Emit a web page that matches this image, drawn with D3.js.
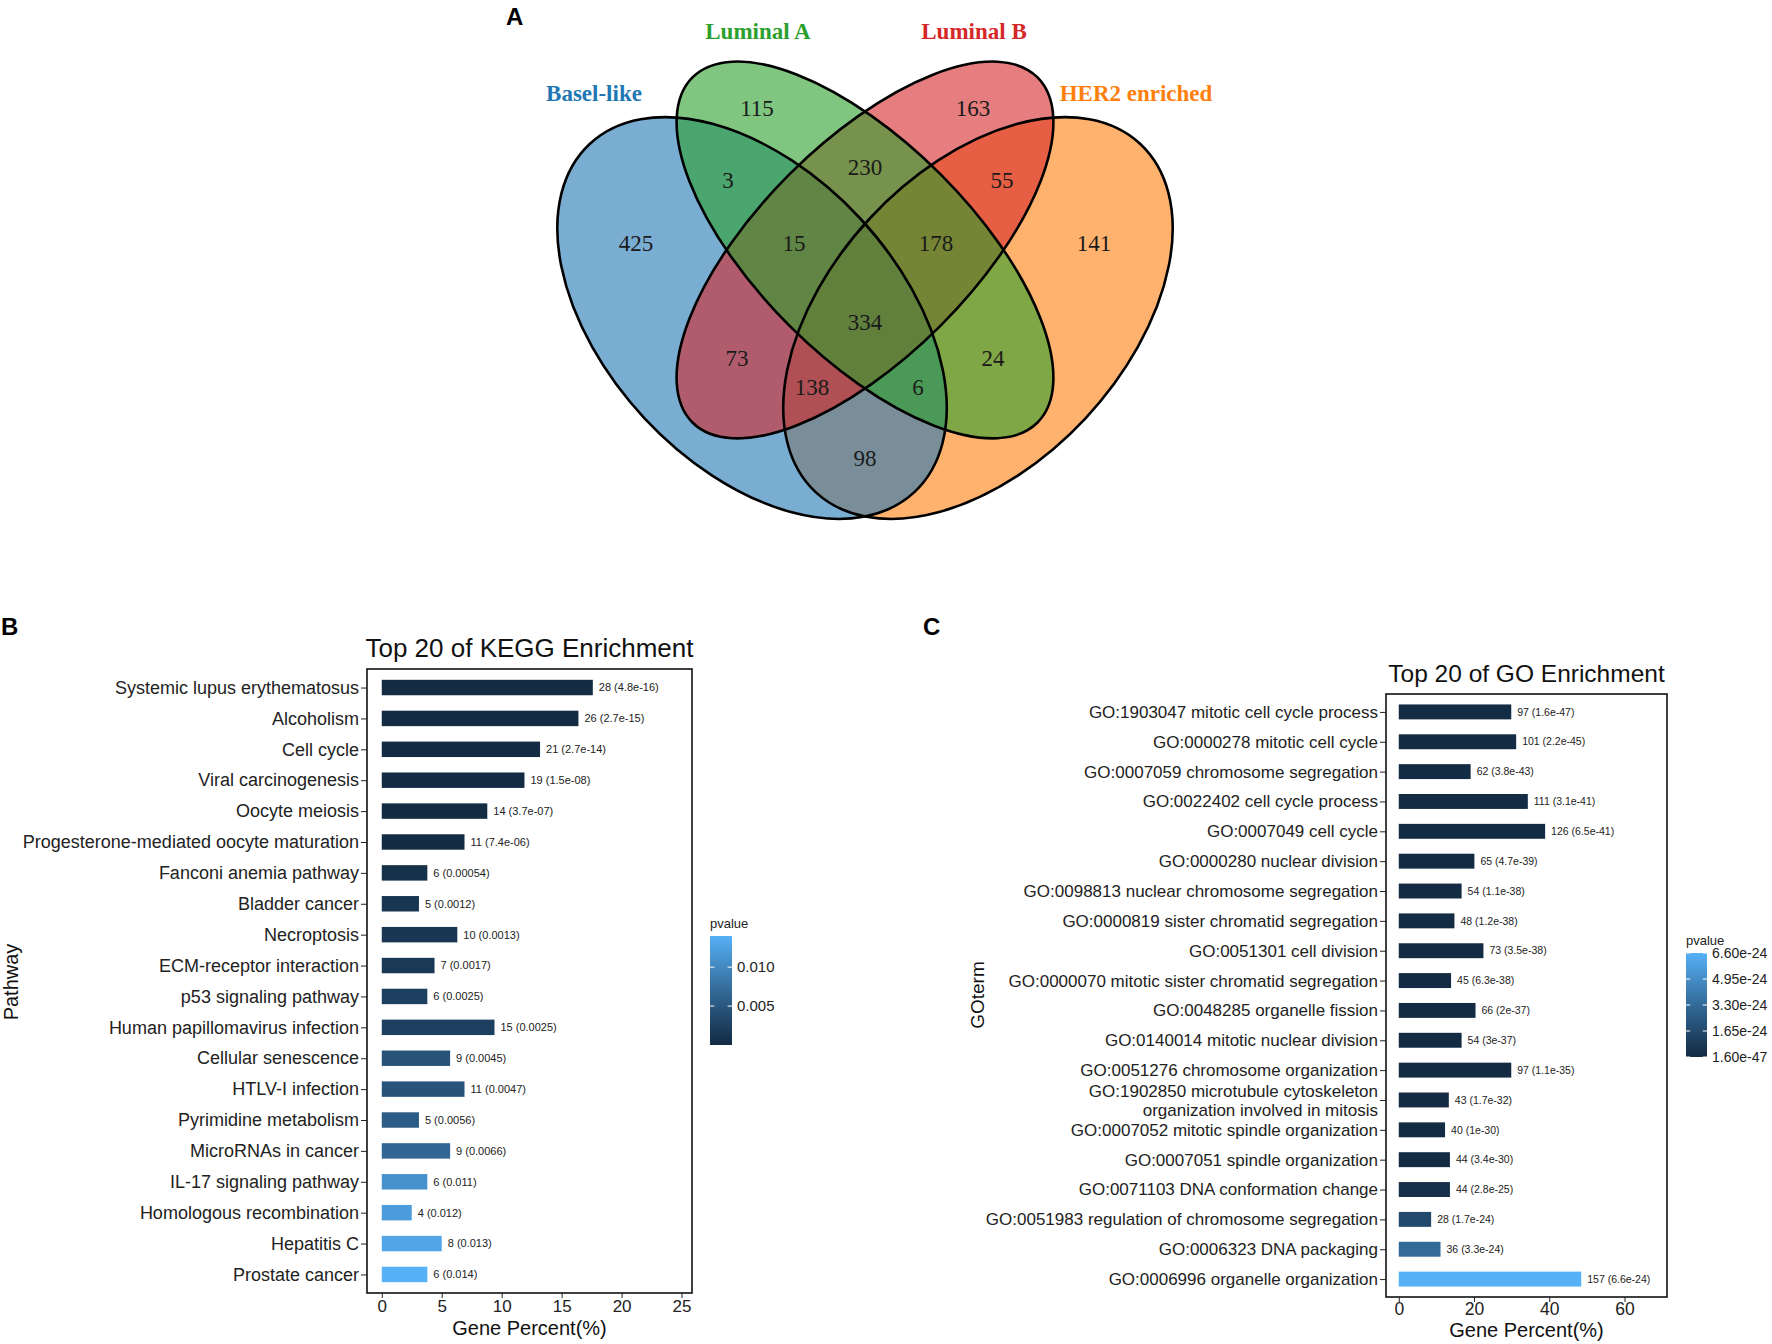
<!DOCTYPE html>
<html>
<head>
<meta charset="utf-8">
<script src="https://cdnjs.cloudflare.com/ajax/libs/d3/7.8.5/d3.min.js"></script>
<style>
  body { margin: 0; background: #fff; }
  svg { display: block; font-family: "Liberation Sans", Arial, sans-serif; }
</style>
</head>
<body>
<svg id="figure" width="1772" height="1344"></svg>
<script>
// ---- Venn (panel A) ----
var vennSets = ["Basel-like", "Luminal A", "Luminal B", "HER2 enriched"];
var vennRegions = ["1000", "0100", "0010", "0001", "1100", "0110", "0011", "1110",
                   "0111", "1111", "1010", "0101", "1011", "1101", "1001"];
var vennCounts = [425, 115, 163, 141, 3, 230, 55, 15, 178, 334, 73, 24, 138, 6, 98];

// ---- KEGG (panel B) ----
var keggTerms = ["Systemic lupus erythematosus", "Alcoholism", "Cell cycle", "Viral carcinogenesis",
  "Oocyte meiosis", "Progesterone-mediated oocyte maturation", "Fanconi anemia pathway",
  "Bladder cancer", "Necroptosis", "ECM-receptor interaction", "p53 signaling pathway",
  "Human papillomavirus infection", "Cellular senescence", "HTLV-I infection",
  "Pyrimidine metabolism", "MicroRNAs in cancer", "IL-17 signaling pathway",
  "Homologous recombination", "Hepatitis C", "Prostate cancer"];
var keggCounts = [28, 26, 21, 19, 14, 11, 6, 5, 10, 7, 6, 15, 9, 11, 5, 9, 6, 4, 8, 6];
var keggPercent = [17.6, 16.4, 13.2, 11.9, 8.8, 6.9, 3.8, 3.1, 6.3, 4.4, 3.8, 9.4, 5.7, 6.9, 3.1, 5.7, 3.8, 2.5, 5.0, 3.8];
var keggP = ["4.8e-16", "2.7e-15", "2.7e-14", "1.5e-08", "3.7e-07", "7.4e-06", "0.00054", "0.0012",
  "0.0013", "0.0017", "0.0025", "0.0025", "0.0045", "0.0047", "0.0056", "0.0066", "0.011",
  "0.012", "0.013", "0.014"];
var keggTicks = [0, 5, 10, 15, 20, 25];
var keggLegendBreaks = [0.005, 0.010];

// ---- GO (panel C) ----
var goTerms = ["GO:1903047 mitotic cell cycle process", "GO:0000278 mitotic cell cycle",
  "GO:0007059 chromosome segregation", "GO:0022402 cell cycle process", "GO:0007049 cell cycle",
  "GO:0000280 nuclear division", "GO:0098813 nuclear chromosome segregation",
  "GO:0000819 sister chromatid segregation", "GO:0051301 cell division",
  "GO:0000070 mitotic sister chromatid segregation", "GO:0048285 organelle fission",
  "GO:0140014 mitotic nuclear division", "GO:0051276 chromosome organization",
  "GO:1902850 microtubule cytoskeleton\norganization involved in mitosis",
  "GO:0007052 mitotic spindle organization", "GO:0007051 spindle organization",
  "GO:0071103 DNA conformation change", "GO:0051983 regulation of chromosome segregation",
  "GO:0006323 DNA packaging", "GO:0006996 organelle organization"];
var goCounts = [97, 101, 62, 111, 126, 65, 54, 48, 73, 45, 66, 54, 97, 43, 40, 44, 44, 28, 36, 157];
var goPercent = [29.9, 31.2, 19.1, 34.3, 38.9, 20.1, 16.7, 14.8, 22.5, 13.9, 20.4, 16.7, 29.9, 13.3, 12.3, 13.6, 13.6, 8.6, 11.1, 48.5];
var goP = ["1.6e-47", "2.2e-45", "3.8e-43", "3.1e-41", "6.5e-41", "4.7e-39", "1.1e-38", "1.2e-38",
  "3.5e-38", "6.3e-38", "2e-37", "3e-37", "1.1e-35", "1.7e-32", "1e-30", "3.4e-30", "2.8e-25",
  "1.7e-24", "3.3e-24", "6.6e-24"];
var goTicks = [0, 20, 40, 60];
var goLegendBreaks = [1.6e-47, 1.65e-24, 3.30e-24, 4.95e-24, 6.6e-24];

const WIDTH = 1772;
const HEIGHT = 1344;
var svg = d3.select("#figure");
svg.append("rect").attr("width", WIDTH).attr("height", HEIGHT).attr("fill", "#fff");

// panel letters
svg.selectAll(".panel-letter")
  .data([["A", 506, 25], ["B", 1, 635], ["C", 923, 635]])
  .enter().append("text")
  .attr("x", function(d) { return d[1]; })
  .attr("y", function(d) { return d[2]; })
  .style("font-size", "24px").style("font-weight", "bold").attr("fill", "#000")
  .text(function(d) { return d[0]; });

drawVenn();
drawEnrichment({
  terms: keggTerms, counts: keggCounts, pct: keggPercent, pLabels: keggP, ticks: keggTicks,
  left: 367, right: 692, top: 669, bottom: 1293,
  title: "Top 20 of KEGG Enrichment", titleY: 657, titleSize: 26,
  labelSize: 18, valueSize: 11, tickSize: 17, tickPad: 2,
  xTitleY: 1335, yTitle: "Pathway", yTitleX: 18, yTitleY: 982, yTitleSize: 20,
  legend: { x: 710, y: 936, w: 22, h: 109, breaks: keggLegendBreaks, fmt: d3.format(".3f"), size: 15 },
  id: "kegg"
});
drawEnrichment({
  terms: goTerms, counts: goCounts, pct: goPercent, pLabels: goP, ticks: goTicks,
  left: 1386, right: 1667, top: 694, bottom: 1297,
  title: "Top 20 of GO Enrichment", titleY: 682, titleSize: 24.5,
  labelSize: 17, valueSize: 10.5, tickSize: 17.5, tickPad: 1,
  xTitleY: 1337, yTitle: "GOterm", yTitleX: 984, yTitleY: 995, yTitleSize: 19,
  legend: { x: 1686, y: 953, w: 21, h: 104, breaks: goLegendBreaks, fmt: d3.format(".2e"), size: 14 },
  id: "go"
});

function drawVenn() {
  // unit square mapped onto the page
  var vx = d3.scaleLinear().domain([0, 1]).range([505, 1225]);
  var vy = d3.scaleLinear().domain([0, 1]).range([10, 730]);
  var k = 720;
  var shapes = [
    { cx: 0.3431, cy: 0.4278, a: 0.3306, b: 0.2042, rot: 47 },
    { cx: 0.5, cy: 0.3333, a: 0.3389, b: 0.1486, rot: 45 },
    { cx: 0.5, cy: 0.3333, a: 0.3389, b: 0.1486, rot: -45 },
    { cx: 0.6569, cy: 0.4278, a: 0.3306, b: 0.2042, rot: -47 }
  ];
  var setColors = ["#1f77b4", "#2ca02c", "#d62728", "#ff7f0e"];
  var fillOrder = [3, 0, 2, 1];
  var catPos = [[0.1236, 0.1153], [0.3514, 0.0292], [0.6514, 0.0292], [0.8764, 0.1153]];
  var regionPos = {
    "1000": [0.1819, 0.3236], "0100": [0.35, 0.1361], "0010": [0.65, 0.1361], "0001": [0.8181, 0.3236],
    "1100": [0.3097, 0.2361], "0110": [0.5, 0.2181], "0011": [0.6903, 0.2361],
    "1110": [0.4014, 0.3236], "0111": [0.5986, 0.3236], "1111": [0.5, 0.4333],
    "1010": [0.3222, 0.4833], "0101": [0.6778, 0.4833], "1011": [0.4264, 0.5236],
    "1101": [0.5736, 0.5236], "1001": [0.5, 0.6222]
  };

  var g = svg.append("g").attr("class", "venn");
  function place(d) {
    return "translate(" + vx(d.cx) + "," + vy(d.cy) + ") rotate(" + d.rot + ")";
  }
  g.selectAll(".fill")
    .data(fillOrder)
    .enter().append("ellipse")
    .attr("class", "fill")
    .attr("transform", function(i) { return place(shapes[i]); })
    .attr("rx", function(i) { return shapes[i].a * k; })
    .attr("ry", function(i) { return shapes[i].b * k; })
    .attr("fill", function(i) { return setColors[i]; })
    .attr("fill-opacity", 0.6);
  g.selectAll(".outline")
    .data(shapes)
    .enter().append("ellipse")
    .attr("class", "outline")
    .attr("transform", place)
    .attr("rx", function(d) { return d.a * k; })
    .attr("ry", function(d) { return d.b * k; })
    .attr("fill", "none")
    .attr("stroke", "#000")
    .attr("stroke-width", 2.6);

  g.selectAll(".count")
    .data(vennRegions)
    .enter().append("text")
    .attr("class", "count")
    .attr("x", function(r) { return vx(regionPos[r][0]); })
    .attr("y", function(r) { return vy(regionPos[r][1]); })
    .attr("dy", "0.35em")
    .attr("text-anchor", "middle")
    .style("font-family", "'Liberation Serif', 'Times New Roman', serif")
    .style("font-size", "23px")
    .attr("fill", "#1a1a1a")
    .text(function(r, i) { return vennCounts[i]; });

  g.selectAll(".cat")
    .data(vennSets)
    .enter().append("text")
    .attr("class", "cat")
    .attr("x", function(s, i) { return vx(catPos[i][0]); })
    .attr("y", function(s, i) { return vy(catPos[i][1]); })
    .attr("dy", "0.35em")
    .attr("text-anchor", "middle")
    .style("font-family", "'Liberation Serif', 'Times New Roman', serif")
    .style("font-size", "23px")
    .style("font-weight", "bold")
    .attr("fill", function(s, i) { return setColors[i]; })
    .text(function(s) { return s; });
}

function drawEnrichment(cfg) {
  var g = svg.append("g").attr("class", cfg.id);
  var pvals = cfg.pLabels.map(Number);
  var xMax = d3.max(cfg.pct) * 1.4;
  var x = d3.scaleLinear()
    .domain([-0.05 * xMax, 1.05 * xMax])
    .range([cfg.left, cfg.right]);
  var y = d3.scalePoint()
    .domain(cfg.terms)
    .range([cfg.top, cfg.bottom])
    .padding(0.6);
  var barH = y.step() * 0.5;
  var color = d3.scaleLinear()
    .domain(d3.extent(pvals))
    .range(["#132B43", "#56B1F7"])
    .interpolate(d3.interpolateLab);

  // bars
  g.selectAll(".bar")
    .data(cfg.terms)
    .enter().append("rect")
    .attr("class", "bar")
    .attr("x", x(0))
    .attr("y", function(t) { return y(t) - barH / 2; })
    .attr("width", function(t, i) { return x(cfg.pct[i]) - x(0); })
    .attr("height", barH)
    .attr("fill", function(t, i) { return color(pvals[i]); });

  g.selectAll(".value")
    .data(cfg.terms)
    .enter().append("text")
    .attr("class", "value")
    .attr("x", function(t, i) { return x(cfg.pct[i]) + 6; })
    .attr("y", function(t) { return y(t); })
    .attr("dy", "0.35em")
    .style("font-size", cfg.valueSize + "px")
    .attr("fill", "#222")
    .text(function(t, i) { return cfg.counts[i] + " (" + cfg.pLabels[i] + ")"; });

  // panel border
  g.append("rect")
    .attr("x", cfg.left).attr("y", cfg.top)
    .attr("width", cfg.right - cfg.left).attr("height", cfg.bottom - cfg.top)
    .attr("fill", "none").attr("stroke", "#111").attr("stroke-width", 1.6);

  // axes
  var xAxis = g.append("g")
    .attr("transform", "translate(0," + cfg.bottom + ")")
    .call(d3.axisBottom(x).tickValues(cfg.ticks).tickSize(5).tickPadding(cfg.tickPad));
  xAxis.select(".domain").remove();
  xAxis.attr("color", "#222").style("font-size", cfg.tickSize + "px").style("font-family", null);

  var yAxis = g.append("g")
    .attr("transform", "translate(" + cfg.left + ",0)")
    .call(d3.axisLeft(y).tickSize(6).tickPadding(2));
  yAxis.select(".domain").remove();
  yAxis.attr("color", "#222").style("font-size", cfg.labelSize + "px").style("font-family", null);
  yAxis.selectAll("text").each(function(t) {
    var lines = t.split("\n");
    if (lines.length < 2) return;
    var el = d3.select(this).text(null).attr("dy", null);
    lines.forEach(function(line, j) {
      el.append("tspan")
        .attr("x", -8)
        .attr("dy", j === 0 ? "-0.2em" : "1.1em")
        .text(line);
    });
  });

  // titles
  g.append("text")
    .attr("x", (cfg.left + cfg.right) / 2).attr("y", cfg.titleY)
    .attr("text-anchor", "middle")
    .style("font-size", cfg.titleSize + "px").attr("fill", "#111")
    .text(cfg.title);
  g.append("text")
    .attr("x", (cfg.left + cfg.right) / 2).attr("y", cfg.xTitleY)
    .attr("text-anchor", "middle")
    .style("font-size", "20px").attr("fill", "#111")
    .text("Gene Percent(%)");
  g.append("text")
    .attr("transform", "translate(" + cfg.yTitleX + "," + cfg.yTitleY + ") rotate(-90)")
    .attr("text-anchor", "middle")
    .style("font-size", cfg.yTitleSize + "px").attr("fill", "#111")
    .text(cfg.yTitle);

  // colour bar legend
  var L = cfg.legend;
  var ly = d3.scaleLinear().domain(color.domain()).range([L.y + L.h, L.y]);
  var grad = svg.append("defs").append("linearGradient")
    .attr("id", "grad-" + cfg.id)
    .attr("x1", 0).attr("y1", 1).attr("x2", 0).attr("y2", 0);
  d3.range(0, 1.0001, 0.1).forEach(function(t) {
    var dom = color.domain();
    grad.append("stop")
      .attr("offset", t)
      .attr("stop-color", color(dom[0] + t * (dom[1] - dom[0])));
  });
  g.append("rect")
    .attr("x", L.x).attr("y", L.y).attr("width", L.w).attr("height", L.h)
    .attr("fill", "url(#grad-" + cfg.id + ")");
  var tick = g.selectAll(".ltick")
    .data(L.breaks)
    .enter().append("g")
    .attr("class", "ltick")
    .attr("transform", function(b) { return "translate(0," + ly(b) + ")"; });
  tick.append("line")
    .attr("x1", L.x).attr("x2", L.x + L.w * 0.2)
    .attr("stroke", "#fff").attr("stroke-width", 1);
  tick.append("line")
    .attr("x1", L.x + L.w * 0.8).attr("x2", L.x + L.w)
    .attr("stroke", "#fff").attr("stroke-width", 1);
  tick.append("text")
    .attr("x", L.x + L.w + 5)
    .attr("dy", "0.35em")
    .style("font-size", L.size + "px").attr("fill", "#222")
    .text(function(b) { return L.fmt(b); });
  g.append("text")
    .attr("x", L.x).attr("y", L.y - 8)
    .style("font-size", "13px").attr("fill", "#222")
    .text("pvalue");
}
</script>
</body>
</html>
